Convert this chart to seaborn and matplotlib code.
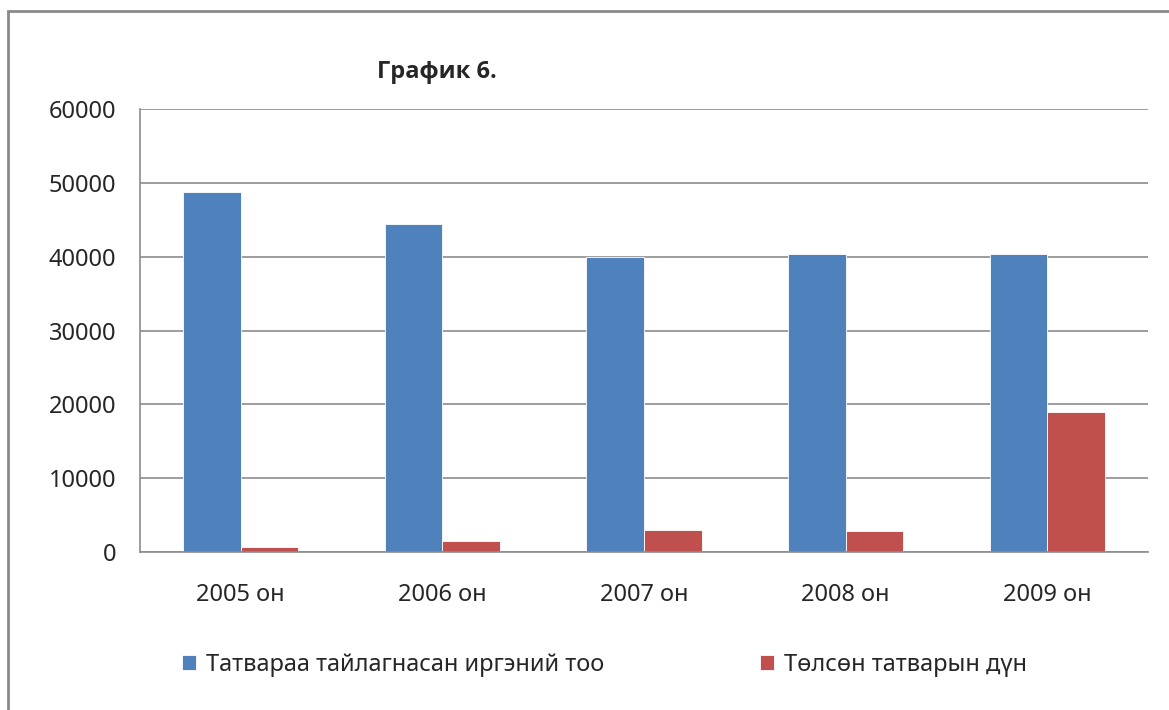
import matplotlib
matplotlib.use("Agg")
import matplotlib.pyplot as plt
from matplotlib.patches import Rectangle
import pandas as pd
import seaborn as sns

# Данные графика
years = ["2005 он", "2006 он", "2007 он", "2008 он", "2009 он"]
series_names = ["Татвараа тайлагнасан иргэний тоо", "Төлсөн татварын дүн"]
citizens = [48800, 44400, 39900, 40300, 40300]
tax_paid = [700, 1500, 3000, 2850, 19000]
y_ticks = [0, 10000, 20000, 30000, 40000, 50000, 60000]

colors = ["#4F81BD", "#C0504D"]

df = pd.DataFrame({
    "year": years * 2,
    "series": [series_names[0]] * len(years) + [series_names[1]] * len(years),
    "value": citizens + tax_paid,
})

sns.set_theme(style="white")
plt.rcParams["font.family"] = ["Noto Sans", "DejaVu Sans"]

fig = plt.figure(figsize=(11.69, 7.10), dpi=100)
ax = fig.add_axes([140 / 1169, 1 - 552 / 710, 1008 / 1169, 443 / 710])

sns.barplot(data=df, x="year", y="value", hue="series", palette=colors,
            width=2 / 3.5, saturation=1, ax=ax, legend=True)

ax.set_ylim(0, 60000)
ax.set_xlim(-0.5, len(years) - 0.5)
ax.set_yticks(y_ticks)
ax.set_yticklabels([str(v) for v in y_ticks], fontsize=17)
ax.tick_params(axis="x", which="major", length=0, labelsize=17, pad=22)
ax.set_xticks([i - 0.5 for i in range(len(years) + 1)], minor=True)
ax.tick_params(axis="x", which="minor", length=8, width=1, color="#888888", direction="out")
ax.tick_params(axis="y", length=8, width=1, color="#888888", direction="out", pad=9)
ax.set_xlabel("")
ax.set_ylabel("")

ax.yaxis.grid(True, color="#8c8c8c", linewidth=1.2)
ax.set_axisbelow(True)
for side in ["top", "right"]:
    ax.spines[side].set_visible(False)
for side in ["left", "bottom"]:
    ax.spines[side].set_color("#8c8c8c")
    ax.spines[side].set_linewidth(1.2)

for p in ax.patches:
    p.set_edgecolor("white")
    p.set_linewidth(0.6)

handles, labels = ax.get_legend_handles_labels()
ax.legend(handles, labels, loc="center left", bbox_to_anchor=(161 / 1169, 1 - 665 / 710),
          bbox_transform=fig.transFigure, ncol=2, frameon=False, fontsize=17,
          handlelength=0.6, handleheight=0.6, handletextpad=0.4, columnspacing=6.6)

fig.text(437 / 1169, 1 - 72 / 710, "График 6.", fontsize=17, fontweight="bold",
         family=["Open Sans", "DejaVu Sans"], ha="center", va="center")

fig.patches.append(Rectangle((8 / 1169, -0.1), 1.2, 1 - 11 / 710 + 0.1,
                             transform=fig.transFigure, fill=False,
                             edgecolor="#8a8a8a", linewidth=2))

fig.savefig("out.png", dpi=100)
